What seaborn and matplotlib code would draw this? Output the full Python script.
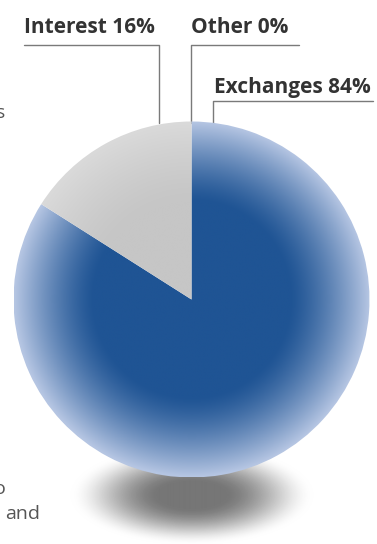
import numpy as np
import matplotlib
matplotlib.use("Agg")
import matplotlib.pyplot as plt
import seaborn as sns

# Datos del gráfico
categories = ["Exchanges", "Interest", "Other"]
shares = [84, 16, 0]

# Colores
BLUE_DARK = "#1f5494"
BLUE_LIGHT = "#b6c6e3"
GRAY_DARK = "#c6c6c6"
GRAY_LIGHT = "#dadada"
TEXT_COLOR = "#333333"
LINE_COLOR = "#7a7a7a"

W, H = 377, 544
CX, CY, R = 191.5, H - 299.5, 178

sns.set_theme(style="white")
plt.rcParams["font.family"] = ["Open Sans", "DejaVu Sans"]

fig = plt.figure(figsize=(W / 100, H / 100), dpi=100)
ax = fig.add_axes([0, 0, 1, 1])

wedges, _ = ax.pie(shares, startangle=90, counterclock=False,
                   center=(CX, CY), radius=R,
                   colors=["none"] * len(shares),
                   wedgeprops={"linewidth": 0})

ax.set_xlim(0, W)
ax.set_ylim(0, H)
ax.set_aspect("equal")
ax.axis("off")


def radial(n, flat, power):
    """Distancia radial normalizada -> factor de mezcla 0..1."""
    yy, xx = np.mgrid[-1:1:n * 1j, -1:1:n * 1j]
    rr = np.sqrt(xx ** 2 + yy ** 2)
    return np.clip((rr - flat) / (1 - flat), 0, 1) ** power


# Sombra bajo la esfera
sh = radial(300, 0.3, 1.2)
shadow_cmap = sns.blend_palette(["#767676", "#ffffff"], as_cmap=True)
sh_rgba = shadow_cmap(sh)
sh_rgba[..., 3] = 1 - sh ** 2.5
ax.imshow(sh_rgba, extent=(CX - 122, CX + 122, H - 545, H - 445),
          interpolation="bilinear", zorder=0)

# Relleno con degradado radial para cada porción
fills = {
    "Exchanges": sns.blend_palette([BLUE_DARK, BLUE_LIGHT], as_cmap=True),
    "Interest": sns.blend_palette([GRAY_DARK, GRAY_LIGHT], as_cmap=True),
}
t = radial(600, 0.55, 1.3)
for cat, wedge, share in zip(categories, wedges, shares):
    if share == 0:
        continue
    img = ax.imshow(fills[cat](t), extent=(CX - R, CX + R, CY - R, CY + R),
                    interpolation="bilinear", zorder=2)
    img.set_clip_path(wedge)

# Etiquetas con líneas guía (coordenadas en píxeles desde arriba)
labels = [f"{c} {s}%" for c, s in zip(categories, shares)]
label_pos = {
    "Interest": (24, 33, [(24, 45), (159, 45), (159, 123)]),
    "Other": (191, 33, [(299, 45), (191, 45), (191, 123)]),
    "Exchanges": (214, 93, [(373, 101), (213, 101), (213, 125)]),
}
for cat, lab in zip(categories, labels):
    tx, ty, pts = label_pos[cat]
    ax.text(tx, H - ty, lab, fontsize=15, fontweight="bold",
            color=TEXT_COLOR, ha="left", va="baseline", zorder=5)
    xs = [p[0] for p in pts]
    ys = [H - p[1] for p in pts]
    ax.plot(xs, ys, color=LINE_COLOR, linewidth=1.0, zorder=1)

# Fragmentos de texto recortados en el borde izquierdo
ax.text(-4, H - 118, "s", fontsize=14, color="#555555", va="baseline")
ax.text(-6, H - 494, "o", fontsize=14, color="#555555", va="baseline")
ax.text(5, H - 519, "and", fontsize=14, color="#555555", va="baseline")

fig.savefig("out.png", dpi=100)
plt.close(fig)
